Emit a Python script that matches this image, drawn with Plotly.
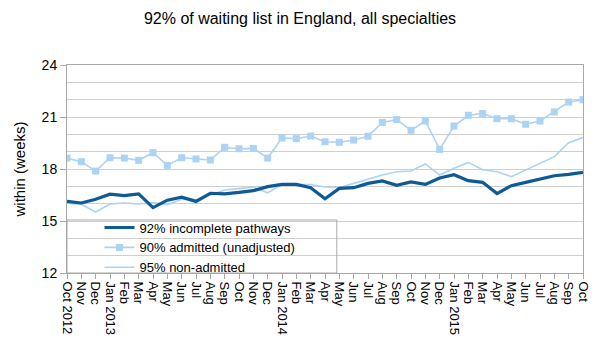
import plotly.graph_objects as go

months = ["2012-10", "2012-11", "2012-12", "2013-01", "2013-02", "2013-03", "2013-04",
          "2013-05", "2013-06", "2013-07", "2013-08", "2013-09", "2013-10", "2013-11",
          "2013-12", "2014-01", "2014-02", "2014-03", "2014-04", "2014-05", "2014-06",
          "2014-07", "2014-08", "2014-09", "2014-10", "2014-11", "2014-12", "2015-01",
          "2015-02", "2015-03", "2015-04", "2015-05", "2015-06", "2015-07", "2015-08",
          "2015-09", "2015-10"]
tick_labels = ["Oct 2012", "Nov", "Dec", "Jan 2013", "Feb", "Mar", "Apr", "May", "Jun",
               "Jul", "Aug", "Sep", "Oct", "Nov", "Dec", "Jan 2014", "Feb", "Mar", "Apr",
               "May", "Jun", "Jul", "Aug", "Sep", "Oct", "Nov", "Dec", "Jan 2015", "Feb",
               "Mar", "Apr", "May", "Jun", "Jul", "Aug", "Sep", "Oct"]

incomplete_92 = [16.13, 16.04, 16.25, 16.55, 16.46, 16.56, 15.77, 16.2, 16.37, 16.13,
                 16.6, 16.57, 16.65, 16.75, 16.98, 17.11, 17.11, 16.92, 16.28, 16.88,
                 16.92, 17.17, 17.31, 17.06, 17.25, 17.11, 17.48, 17.67, 17.33, 17.23,
                 16.58, 17.04, 17.23, 17.4, 17.61, 17.69, 17.81]
admitted_90 = [18.63, 18.42, 17.88, 18.65, 18.63, 18.5, 18.94, 18.21, 18.65, 18.58,
               18.52, 19.25, 19.17, 19.19, 18.63, 19.79, 19.75, 19.9, 19.57, 19.54,
               19.67, 19.89, 20.69, 20.85, 20.23, 20.77, 19.13, 20.48, 21.1, 21.2,
               20.9, 20.9, 20.58, 20.77, 21.29, 21.86, 22.0]
non_admitted_95 = [16.02, 15.96, 15.52, 15.98, 16.04, 15.98, 16.06, 15.94, 16.25, 16.23,
                   16.5, 16.79, 16.87, 16.96, 16.63, 17.11, 17.11, 17.11, 16.96, 16.92,
                   17.17, 17.42, 17.65, 17.84, 17.88, 18.29, 17.65, 18.04, 18.38, 17.96,
                   17.84, 17.56, 17.94, 18.35, 18.71, 19.52, 19.81]

dark = "#0d5a96"
light = "#acd2f4"
grid = "#cfcfcf"
axis_c = "#a8a8a8"
font = "Liberation Sans, Arial, sans-serif"

fig = go.Figure()
fig.add_trace(go.Scatter(x=months, y=non_admitted_95, mode="lines", name="95% non-admitted",
                         line=dict(color=light, width=1.6), legendrank=3))
fig.add_trace(go.Scatter(x=months, y=admitted_90, mode="lines+markers",
                         name="90% admitted (unadjusted)",
                         line=dict(color=light, width=1.6),
                         marker=dict(symbol="square", size=7, color=light), legendrank=2))
fig.add_trace(go.Scatter(x=months, y=incomplete_92, mode="lines", name="92% incomplete pathways",
                         line=dict(color=dark, width=3.2), legendrank=1))

L, R, T, B = 67, 9, 65, 73
W, H = 600, 346
pw, ph = W - L - R, H - T - B

fig.update_layout(
    width=W, height=H,
    margin=dict(l=L, r=R, t=T, b=B, pad=0),
    paper_bgcolor="white", plot_bgcolor="white",
    font=dict(family=font, color="#000000", size=13),
    title=dict(text="92% of waiting list in England, all specialties", x=0.5, xanchor="center",
               y=1 - 18 / H, yanchor="middle", font=dict(size=16)),
    showlegend=True,
    legend=dict(x=(100 - L) / pw, xanchor="left", y=-0.046, yanchor="bottom",
                bgcolor="rgba(0,0,0,0)", borderwidth=0, font=dict(size=13),
                tracegroupgap=0, itemwidth=30),
    shapes=[dict(type="rect", xref="paper", yref="paper", x0=0, x1=(341 - L) / pw,
                 y0=0, y1=(273 - 220) / ph, line=dict(color=axis_c, width=1),
                 fillcolor="rgba(0,0,0,0)", layer="above")],
)
fig.update_xaxes(type="category", categoryorder="array", categoryarray=months,
                 range=[0, len(months) - 1], tickvals=months, ticktext=tick_labels,
                 tickangle=90, tickfont=dict(size=13), ticks="outside", ticklen=5,
                 tickcolor=axis_c, showline=True, linecolor=axis_c, mirror=True,
                 showgrid=False, zeroline=False)
fig.update_yaxes(range=[12, 24], tickvals=[12, 15, 18, 21, 24], ticks="outside", ticklen=6,
                 tickcolor=axis_c, tickfont=dict(size=14), showline=True, linecolor=axis_c,
                 mirror=True, showgrid=True, gridcolor=grid, zeroline=False,
                 minor=dict(dtick=1, tick0=12, showgrid=True, gridcolor=grid, ticks=""),
                 title=dict(text="within (weeks)", font=dict(size=15), standoff=12))

fig.write_html("out.html")
